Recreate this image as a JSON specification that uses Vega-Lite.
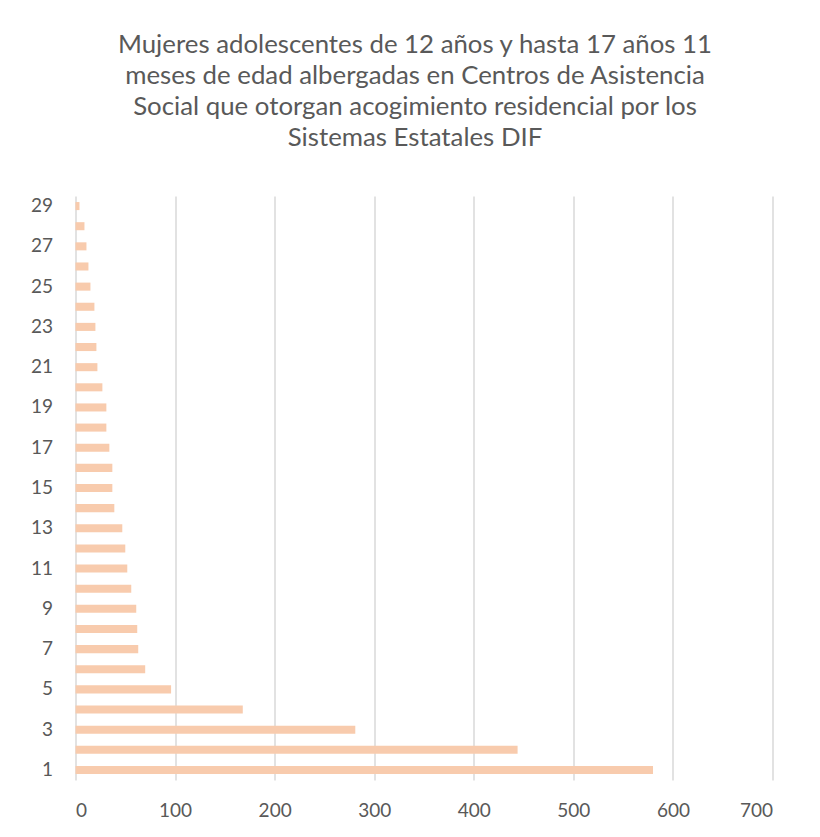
{
  "$schema": "https://vega.github.io/schema/vega-lite/v6.json",
  "autosize": "none",
  "width": 697,
  "height": 584,
  "padding": {"left": 75.5, "top": 196, "right": 47.5, "bottom": 57},
  "background": "white",
  "title": {
    "text": ["Mujeres adolescentes de 12 años y hasta 17 años 11", "meses de edad albergadas en Centros de Asistencia", "Social que otorgan acogimiento residencial por los", "Sistemas Estatales DIF"],
    "font": "Lato",
    "fontSize": 25.8,
    "fontWeight": "normal",
    "color": "#595959",
    "lineHeight": 31,
    "anchor": "middle",
    "frame": "group",
    "dx": -9,
    "offset": 44
  },
  "data": {
    "values": [
      {"cat": 1, "value": 580},
      {"cat": 2, "value": 444},
      {"cat": 3, "value": 281},
      {"cat": 4, "value": 168},
      {"cat": 5, "value": 96},
      {"cat": 6, "value": 70},
      {"cat": 7, "value": 63},
      {"cat": 8, "value": 62},
      {"cat": 9, "value": 61},
      {"cat": 10, "value": 56},
      {"cat": 11, "value": 52},
      {"cat": 12, "value": 50},
      {"cat": 13, "value": 47},
      {"cat": 14, "value": 39},
      {"cat": 15, "value": 37},
      {"cat": 16, "value": 37},
      {"cat": 17, "value": 34},
      {"cat": 18, "value": 31},
      {"cat": 19, "value": 31},
      {"cat": 20, "value": 27},
      {"cat": 21, "value": 22},
      {"cat": 22, "value": 21},
      {"cat": 23, "value": 20},
      {"cat": 24, "value": 19},
      {"cat": 25, "value": 15},
      {"cat": 26, "value": 13},
      {"cat": 27, "value": 11},
      {"cat": 28, "value": 9},
      {"cat": 29, "value": 4}
    ]
  },
  "mark": {"type": "bar", "color": "#F8CBAD"},
  "encoding": {
    "y": {
      "field": "cat",
      "type": "ordinal",
      "sort": "descending",
      "scale": {"paddingInner": 0.6, "paddingOuter": 0.3},
      "axis": {
        "title": null,
        "values": [1, 3, 5, 7, 9, 11, 13, 15, 17, 19, 21, 23, 25, 27, 29],
        "domain": false,
        "ticks": false,
        "grid": false,
        "labelPadding": 23,
        "labelFont": "Lato",
        "labelFontSize": 19,
        "labelFontWeight": "normal",
        "labelColor": "#595959"
      }
    },
    "x": {
      "field": "value",
      "type": "quantitative",
      "scale": {"domain": [0, 700], "nice": false},
      "axis": {
        "title": null,
        "values": [0, 100, 200, 300, 400, 500, 600, 700],
        "domain": false,
        "ticks": false,
        "grid": true,
        "gridColor": "#D9D9D9",
        "gridWidth": 1.5,
        "labelPadding": 21,
        "labelFont": "Lato",
        "labelFontSize": 19,
        "labelFontWeight": "normal",
        "labelColor": "#595959"
      }
    }
  },
  "config": {"view": {"stroke": null}}
}
